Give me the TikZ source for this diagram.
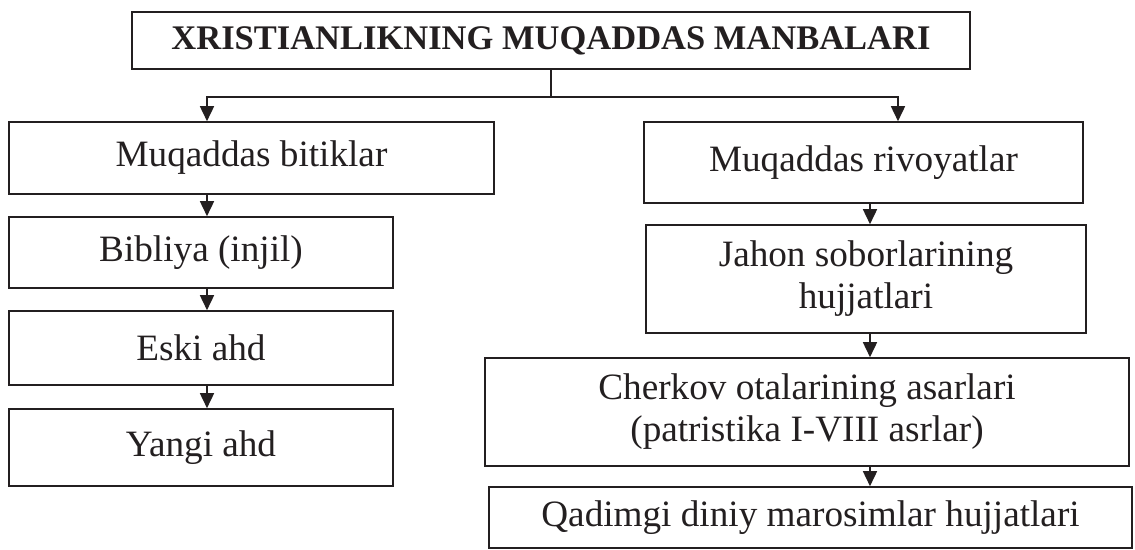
\documentclass[tikz,border=0pt]{standalone}
\usepackage{fontspec}
\setmainfont{Liberation Serif}
\usetikzlibrary{arrows.meta}
\definecolor{ink}{HTML}{231F20}
\tikzset{
  box/.style={draw=ink, line width=1.6pt, inner sep=0pt, align=center, text=ink,
    font=\fontsize{37.2}{42}\selectfont},
  arr/.style={draw=ink, line width=1.6pt, -{Triangle[length=15pt,width=14pt]}},
  ln/.style={draw=ink, line width=1.6pt}
}
\begin{document}
\begin{tikzpicture}[x=1pt,y=-1pt]
\useasboundingbox (0,0) rectangle (1135,549);
\node[box, minimum width=838pt, minimum height=57pt, font=\fontsize{34.5}{40}\selectfont\bfseries] (title) at (551,40.5) {XRISTIANLIKNING MUQADDAS MANBALARI};
\node[box, minimum width=485pt, minimum height=72pt] (b1) at (251.5,158) {Muqaddas bitiklar};
\node[box, minimum width=384pt, minimum height=71pt] (b2) at (201,252.5) {Bibliya (injil)};
\node[box, minimum width=384pt, minimum height=74pt] (b3) at (201,348) {Eski ahd};
\node[box, minimum width=384pt, minimum height=77pt] (b4) at (201,447.5) {Yangi ahd};
\node[box, minimum width=439pt, minimum height=81pt] (r1) at (863.5,162.5) {Muqaddas rivoyatlar};
\node[box, minimum width=440pt, minimum height=108pt] (r2) at (866,279) {Jahon soborlarining\\hujjatlari};
\node[box, minimum width=644pt, minimum height=108pt] (r3) at (807,412) {Cherkov otalarining asarlari\\(patristika I-VIII asrlar)};
\node[box, minimum width=643pt, minimum height=61pt] (r4) at (810.5,517.5) {Qadimgi diniy marosimlar hujjatlari};
\coordinate (jc) at (551,97);
\coordinate (jl) at (207,97);
\coordinate (jr) at (898,97);
\coordinate (xl) at (207,0);
\coordinate (xr) at (870,0);
\draw[ln] (title.south) -- (jc);
\draw[arr] (jc) -- (jl) -- (b1.north -| jl);
\draw[arr] (jc) -- (jr) -- (r1.north -| jr);
\draw[arr] (b1.south -| xl) -- (b2.north -| xl);
\draw[arr] (b2.south -| xl) -- (b3.north -| xl);
\draw[arr] (b3.south -| xl) -- (b4.north -| xl);
\draw[arr] (r1.south -| xr) -- (r2.north -| xr);
\draw[arr] (r2.south -| xr) -- (r3.north -| xr);
\draw[arr] (r3.south -| xr) -- (r4.north -| xr);
\end{tikzpicture}
\end{document}
